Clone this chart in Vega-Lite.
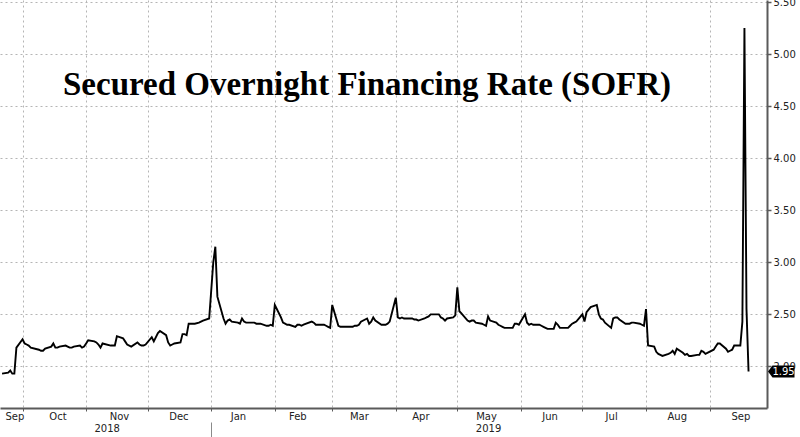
{
  "$schema": "https://vega.github.io/schema/vega-lite/v6.json",
  "width": 767,
  "height": 408,
  "autosize": {"type": "none"},
  "padding": {"left": 0, "top": 0, "right": 33, "bottom": 29},
  "background": "white",
  "title": {
    "text": "Secured Overnight Financing Rate (SOFR)",
    "anchor": "start",
    "frame": "group",
    "orient": "top",
    "offset": 0,
    "dx": 63,
    "dy": 131,
    "baseline": "alphabetic",
    "font": "Liberation Serif",
    "fontSize": 33,
    "fontWeight": "bold",
    "color": "#000"
  },
  "datasets": {
    "sofr": [
      {"date": "2018-09-21", "rate": 1.93},
      {"date": "2018-09-24", "rate": 1.94},
      {"date": "2018-09-25", "rate": 1.96},
      {"date": "2018-09-26", "rate": 1.93},
      {"date": "2018-09-27", "rate": 1.93},
      {"date": "2018-09-28", "rate": 2.18},
      {"date": "2018-10-01", "rate": 2.26},
      {"date": "2018-10-02", "rate": 2.22},
      {"date": "2018-10-03", "rate": 2.21},
      {"date": "2018-10-04", "rate": 2.20},
      {"date": "2018-10-05", "rate": 2.18},
      {"date": "2018-10-09", "rate": 2.16},
      {"date": "2018-10-10", "rate": 2.15},
      {"date": "2018-10-11", "rate": 2.15},
      {"date": "2018-10-12", "rate": 2.17},
      {"date": "2018-10-15", "rate": 2.19},
      {"date": "2018-10-16", "rate": 2.22},
      {"date": "2018-10-17", "rate": 2.18},
      {"date": "2018-10-18", "rate": 2.18},
      {"date": "2018-10-19", "rate": 2.19},
      {"date": "2018-10-22", "rate": 2.20},
      {"date": "2018-10-23", "rate": 2.19},
      {"date": "2018-10-24", "rate": 2.18},
      {"date": "2018-10-25", "rate": 2.18},
      {"date": "2018-10-26", "rate": 2.19},
      {"date": "2018-10-29", "rate": 2.20},
      {"date": "2018-10-30", "rate": 2.18},
      {"date": "2018-10-31", "rate": 2.19},
      {"date": "2018-11-01", "rate": 2.22},
      {"date": "2018-11-02", "rate": 2.25},
      {"date": "2018-11-05", "rate": 2.24},
      {"date": "2018-11-06", "rate": 2.23},
      {"date": "2018-11-07", "rate": 2.21},
      {"date": "2018-11-08", "rate": 2.18},
      {"date": "2018-11-09", "rate": 2.22},
      {"date": "2018-11-13", "rate": 2.20},
      {"date": "2018-11-14", "rate": 2.20},
      {"date": "2018-11-15", "rate": 2.20},
      {"date": "2018-11-16", "rate": 2.29},
      {"date": "2018-11-19", "rate": 2.27},
      {"date": "2018-11-20", "rate": 2.24},
      {"date": "2018-11-21", "rate": 2.21},
      {"date": "2018-11-23", "rate": 2.19},
      {"date": "2018-11-26", "rate": 2.23},
      {"date": "2018-11-27", "rate": 2.21},
      {"date": "2018-11-28", "rate": 2.20},
      {"date": "2018-11-29", "rate": 2.20},
      {"date": "2018-11-30", "rate": 2.21},
      {"date": "2018-12-03", "rate": 2.28},
      {"date": "2018-12-04", "rate": 2.24},
      {"date": "2018-12-06", "rate": 2.32},
      {"date": "2018-12-07", "rate": 2.34},
      {"date": "2018-12-10", "rate": 2.30},
      {"date": "2018-12-11", "rate": 2.23},
      {"date": "2018-12-12", "rate": 2.20},
      {"date": "2018-12-13", "rate": 2.21},
      {"date": "2018-12-14", "rate": 2.22},
      {"date": "2018-12-17", "rate": 2.23},
      {"date": "2018-12-18", "rate": 2.31},
      {"date": "2018-12-19", "rate": 2.31},
      {"date": "2018-12-20", "rate": 2.30},
      {"date": "2018-12-21", "rate": 2.41},
      {"date": "2018-12-24", "rate": 2.41},
      {"date": "2018-12-26", "rate": 2.42},
      {"date": "2018-12-27", "rate": 2.43},
      {"date": "2018-12-28", "rate": 2.44},
      {"date": "2018-12-31", "rate": 2.46},
      {"date": "2019-01-02", "rate": 3.00},
      {"date": "2019-01-03", "rate": 3.15},
      {"date": "2019-01-04", "rate": 2.67},
      {"date": "2019-01-07", "rate": 2.46},
      {"date": "2019-01-08", "rate": 2.41},
      {"date": "2019-01-09", "rate": 2.44},
      {"date": "2019-01-10", "rate": 2.45},
      {"date": "2019-01-11", "rate": 2.43},
      {"date": "2019-01-14", "rate": 2.42},
      {"date": "2019-01-15", "rate": 2.41},
      {"date": "2019-01-16", "rate": 2.46},
      {"date": "2019-01-17", "rate": 2.43},
      {"date": "2019-01-18", "rate": 2.42},
      {"date": "2019-01-22", "rate": 2.42},
      {"date": "2019-01-23", "rate": 2.41},
      {"date": "2019-01-24", "rate": 2.41},
      {"date": "2019-01-25", "rate": 2.41},
      {"date": "2019-01-28", "rate": 2.39},
      {"date": "2019-01-29", "rate": 2.39},
      {"date": "2019-01-30", "rate": 2.40},
      {"date": "2019-01-31", "rate": 2.39},
      {"date": "2019-02-01", "rate": 2.59},
      {"date": "2019-02-04", "rate": 2.47},
      {"date": "2019-02-05", "rate": 2.42},
      {"date": "2019-02-06", "rate": 2.41},
      {"date": "2019-02-07", "rate": 2.40},
      {"date": "2019-02-08", "rate": 2.40},
      {"date": "2019-02-11", "rate": 2.38},
      {"date": "2019-02-12", "rate": 2.40},
      {"date": "2019-02-13", "rate": 2.40},
      {"date": "2019-02-14", "rate": 2.39},
      {"date": "2019-02-15", "rate": 2.40},
      {"date": "2019-02-19", "rate": 2.43},
      {"date": "2019-02-20", "rate": 2.42},
      {"date": "2019-02-21", "rate": 2.40},
      {"date": "2019-02-22", "rate": 2.40},
      {"date": "2019-02-25", "rate": 2.40},
      {"date": "2019-02-26", "rate": 2.39},
      {"date": "2019-02-27", "rate": 2.38},
      {"date": "2019-02-28", "rate": 2.37},
      {"date": "2019-03-01", "rate": 2.59},
      {"date": "2019-03-04", "rate": 2.39},
      {"date": "2019-03-05", "rate": 2.38},
      {"date": "2019-03-06", "rate": 2.38},
      {"date": "2019-03-07", "rate": 2.38},
      {"date": "2019-03-08", "rate": 2.38},
      {"date": "2019-03-11", "rate": 2.38},
      {"date": "2019-03-12", "rate": 2.39},
      {"date": "2019-03-13", "rate": 2.39},
      {"date": "2019-03-14", "rate": 2.40},
      {"date": "2019-03-15", "rate": 2.43},
      {"date": "2019-03-18", "rate": 2.46},
      {"date": "2019-03-19", "rate": 2.41},
      {"date": "2019-03-20", "rate": 2.43},
      {"date": "2019-03-21", "rate": 2.47},
      {"date": "2019-03-22", "rate": 2.44},
      {"date": "2019-03-25", "rate": 2.40},
      {"date": "2019-03-26", "rate": 2.40},
      {"date": "2019-03-27", "rate": 2.40},
      {"date": "2019-03-28", "rate": 2.41},
      {"date": "2019-03-29", "rate": 2.43},
      {"date": "2019-04-01", "rate": 2.66},
      {"date": "2019-04-02", "rate": 2.47},
      {"date": "2019-04-03", "rate": 2.46},
      {"date": "2019-04-04", "rate": 2.47},
      {"date": "2019-04-05", "rate": 2.46},
      {"date": "2019-04-08", "rate": 2.46},
      {"date": "2019-04-09", "rate": 2.46},
      {"date": "2019-04-10", "rate": 2.45},
      {"date": "2019-04-11", "rate": 2.45},
      {"date": "2019-04-12", "rate": 2.44},
      {"date": "2019-04-15", "rate": 2.46},
      {"date": "2019-04-16", "rate": 2.47},
      {"date": "2019-04-17", "rate": 2.48},
      {"date": "2019-04-18", "rate": 2.50},
      {"date": "2019-04-22", "rate": 2.50},
      {"date": "2019-04-23", "rate": 2.47},
      {"date": "2019-04-24", "rate": 2.46},
      {"date": "2019-04-25", "rate": 2.44},
      {"date": "2019-04-26", "rate": 2.46},
      {"date": "2019-04-29", "rate": 2.47},
      {"date": "2019-04-30", "rate": 2.49},
      {"date": "2019-05-01", "rate": 2.76},
      {"date": "2019-05-02", "rate": 2.53},
      {"date": "2019-05-03", "rate": 2.51},
      {"date": "2019-05-06", "rate": 2.44},
      {"date": "2019-05-07", "rate": 2.43},
      {"date": "2019-05-08", "rate": 2.44},
      {"date": "2019-05-09", "rate": 2.44},
      {"date": "2019-05-10", "rate": 2.42},
      {"date": "2019-05-13", "rate": 2.41},
      {"date": "2019-05-14", "rate": 2.40},
      {"date": "2019-05-15", "rate": 2.39},
      {"date": "2019-05-16", "rate": 2.48},
      {"date": "2019-05-17", "rate": 2.44},
      {"date": "2019-05-20", "rate": 2.42},
      {"date": "2019-05-21", "rate": 2.40},
      {"date": "2019-05-22", "rate": 2.39},
      {"date": "2019-05-23", "rate": 2.38},
      {"date": "2019-05-24", "rate": 2.37},
      {"date": "2019-05-28", "rate": 2.37},
      {"date": "2019-05-29", "rate": 2.41},
      {"date": "2019-05-30", "rate": 2.41},
      {"date": "2019-05-31", "rate": 2.40},
      {"date": "2019-06-03", "rate": 2.50},
      {"date": "2019-06-04", "rate": 2.42},
      {"date": "2019-06-05", "rate": 2.40},
      {"date": "2019-06-06", "rate": 2.41},
      {"date": "2019-06-07", "rate": 2.40},
      {"date": "2019-06-10", "rate": 2.40},
      {"date": "2019-06-11", "rate": 2.39},
      {"date": "2019-06-12", "rate": 2.38},
      {"date": "2019-06-13", "rate": 2.37},
      {"date": "2019-06-14", "rate": 2.36},
      {"date": "2019-06-17", "rate": 2.36},
      {"date": "2019-06-18", "rate": 2.42},
      {"date": "2019-06-19", "rate": 2.40},
      {"date": "2019-06-20", "rate": 2.37},
      {"date": "2019-06-21", "rate": 2.37},
      {"date": "2019-06-24", "rate": 2.37},
      {"date": "2019-06-25", "rate": 2.39},
      {"date": "2019-06-26", "rate": 2.41},
      {"date": "2019-06-27", "rate": 2.42},
      {"date": "2019-06-28", "rate": 2.43},
      {"date": "2019-07-01", "rate": 2.50},
      {"date": "2019-07-02", "rate": 2.43},
      {"date": "2019-07-03", "rate": 2.52},
      {"date": "2019-07-05", "rate": 2.57},
      {"date": "2019-07-08", "rate": 2.59},
      {"date": "2019-07-09", "rate": 2.50},
      {"date": "2019-07-10", "rate": 2.46},
      {"date": "2019-07-11", "rate": 2.45},
      {"date": "2019-07-12", "rate": 2.42},
      {"date": "2019-07-15", "rate": 2.37},
      {"date": "2019-07-16", "rate": 2.46},
      {"date": "2019-07-17", "rate": 2.47},
      {"date": "2019-07-18", "rate": 2.47},
      {"date": "2019-07-19", "rate": 2.45},
      {"date": "2019-07-22", "rate": 2.41},
      {"date": "2019-07-23", "rate": 2.41},
      {"date": "2019-07-24", "rate": 2.41},
      {"date": "2019-07-25", "rate": 2.42},
      {"date": "2019-07-26", "rate": 2.42},
      {"date": "2019-07-29", "rate": 2.41},
      {"date": "2019-07-30", "rate": 2.40},
      {"date": "2019-07-31", "rate": 2.39},
      {"date": "2019-08-01", "rate": 2.55},
      {"date": "2019-08-02", "rate": 2.20},
      {"date": "2019-08-05", "rate": 2.19},
      {"date": "2019-08-06", "rate": 2.14},
      {"date": "2019-08-07", "rate": 2.12},
      {"date": "2019-08-08", "rate": 2.11},
      {"date": "2019-08-09", "rate": 2.10},
      {"date": "2019-08-12", "rate": 2.12},
      {"date": "2019-08-13", "rate": 2.13},
      {"date": "2019-08-14", "rate": 2.15},
      {"date": "2019-08-15", "rate": 2.12},
      {"date": "2019-08-16", "rate": 2.17},
      {"date": "2019-08-19", "rate": 2.13},
      {"date": "2019-08-20", "rate": 2.11},
      {"date": "2019-08-21", "rate": 2.12},
      {"date": "2019-08-22", "rate": 2.10},
      {"date": "2019-08-23", "rate": 2.10},
      {"date": "2019-08-26", "rate": 2.11},
      {"date": "2019-08-27", "rate": 2.11},
      {"date": "2019-08-28", "rate": 2.15},
      {"date": "2019-08-29", "rate": 2.14},
      {"date": "2019-08-30", "rate": 2.12},
      {"date": "2019-09-03", "rate": 2.16},
      {"date": "2019-09-04", "rate": 2.19},
      {"date": "2019-09-05", "rate": 2.22},
      {"date": "2019-09-06", "rate": 2.22},
      {"date": "2019-09-09", "rate": 2.17},
      {"date": "2019-09-10", "rate": 2.14},
      {"date": "2019-09-11", "rate": 2.15},
      {"date": "2019-09-12", "rate": 2.16},
      {"date": "2019-09-13", "rate": 2.20},
      {"date": "2019-09-16", "rate": 2.20},
      {"date": "2019-09-17", "rate": 2.43},
      {"date": "2019-09-18", "rate": 5.25},
      {"date": "2019-09-19", "rate": 2.55},
      {"date": "2019-09-20", "rate": 1.95}
    ]
  },
  "layer": [
    {
      "data": {"name": "sofr", "format": {"parse": {"date": "utc:'%Y-%m-%d'"}}},
      "mark": {"type": "line", "color": "#000000", "strokeWidth": 1.9},
      "encoding": {
        "x": {
          "field": "date",
          "type": "temporal",
          "scale": {
            "type": "utc",
            "domain": [
              {"year": 2018, "month": 9, "date": 20, "utc": true},
              {"year": 2019, "month": 9, "date": 29, "utc": true}
            ]
          },
          "axis": {
            "orient": "bottom",
            "title": null,
            "tickCount": {"interval": "month", "step": 1},
            "labels": false,
            "grid": true,
            "gridColor": "#b5b5b5",
            "gridDash": [2, 3],
            "gridWidth": 1,
            "domain": true,
            "domainColor": "#5a5a5a",
            "domainWidth": 2,
            "ticks": true,
            "tickColor": "#5a5a5a",
            "tickSize": 3,
            "tickWidth": 1
          }
        },
        "y": {
          "field": "rate",
          "type": "quantitative",
          "scale": {"domain": [1.6, 5.52], "nice": false, "zero": false},
          "axis": {
            "orient": "right",
            "title": null,
            "values": [2, 2.5, 3, 3.5, 4, 4.5, 5, 5.5],
            "format": ".2f",
            "grid": true,
            "gridColor": "#b5b5b5",
            "gridDash": [2, 3],
            "gridWidth": 1,
            "domain": true,
            "domainColor": "#5a5a5a",
            "domainWidth": 2,
            "tickColor": "#5a5a5a",
            "tickSize": 4,
            "tickWidth": 1.5,
            "labelPadding": 2,
            "labelColor": "#222222",
            "labelFontSize": 10
          }
        }
      }
    },
    {
      "data": {"values": [{"date": "2019-09-29", "rate": 1.95, "label": "1.95"}]},
      "mark": {
        "type": "point",
        "shape": "M0.1,0L0.55,-0.6L2.75,-0.6L2.75,0.6L0.55,0.6Z",
        "size": 400,
        "filled": true,
        "color": "#000000",
        "opacity": 1,
        "clip": false
      },
      "encoding": {
        "x": {
          "field": "date",
          "type": "temporal",
          "scale": {"type": "utc"},
          "axis": {
            "orient": "bottom",
            "title": null,
            "values": [
              {"year": 2018, "month": 9, "date": 27, "utc": true},
              {"year": 2018, "month": 10, "date": 18, "utc": true},
              {"year": 2018, "month": 11, "date": 17, "utc": true},
              {"year": 2018, "month": 12, "date": 16, "utc": true},
              {"year": 2019, "month": 1, "date": 14, "utc": true},
              {"year": 2019, "month": 2, "date": 12, "utc": true},
              {"year": 2019, "month": 3, "date": 14, "utc": true},
              {"year": 2019, "month": 4, "date": 13, "utc": true},
              {"year": 2019, "month": 5, "date": 15, "utc": true},
              {"year": 2019, "month": 6, "date": 15, "utc": true},
              {"year": 2019, "month": 7, "date": 15, "utc": true},
              {"year": 2019, "month": 8, "date": 16, "utc": true},
              {"year": 2019, "month": 9, "date": 16, "utc": true}
            ],
            "labelExpr": "utcFormat(datum.value, '%b')",
            "ticks": false,
            "domain": false,
            "grid": false,
            "labelPadding": 3,
            "labelColor": "#222222",
            "labelFontSize": 10,
            "labelFlush": false,
            "labelOverlap": false
          }
        },
        "y": {"field": "rate", "type": "quantitative"}
      }
    },
    {
      "data": {"values": [{"date": "2019-09-29", "rate": 1.95, "label": "1.95"}]},
      "mark": {
        "type": "text",
        "dx": 16.5,
        "align": "center",
        "baseline": "middle",
        "color": "#ffffff",
        "fontSize": 10,
        "clip": false
      },
      "encoding": {
        "x": {
          "field": "date",
          "type": "temporal",
          "scale": {"type": "utc"},
          "axis": {
            "orient": "bottom",
            "title": null,
            "offset": 14,
            "values": [
              {"year": 2018, "month": 11, "date": 11, "utc": true},
              {"year": 2019, "month": 1, "date": 1, "utc": true},
              {"year": 2019, "month": 5, "date": 16, "utc": true}
            ],
            "labelExpr": "utcmonth(datum.value) == 0 ? '' : utcFormat(datum.value, '%Y')",
            "ticks": true,
            "tickSize": 15,
            "tickColor": "#8a8a8a",
            "tickWidth": 1,
            "tickOpacity": {"condition": {"test": "utcmonth(datum.value) == 0", "value": 1}, "value": 0},
            "domain": false,
            "grid": false,
            "labelPadding": -14,
            "labelColor": "#222222",
            "labelFontSize": 10,
            "labelFlush": false,
            "labelOverlap": false
          }
        },
        "y": {"field": "rate", "type": "quantitative"},
        "text": {"field": "label", "type": "nominal"}
      }
    }
  ],
  "resolve": {"axis": {"x": "independent"}},
  "config": {
    "view": {"stroke": null},
    "font": "DejaVu Sans",
    "axis": {"labelFont": "DejaVu Sans"},
    "text": {"font": "DejaVu Sans"}
  }
}
